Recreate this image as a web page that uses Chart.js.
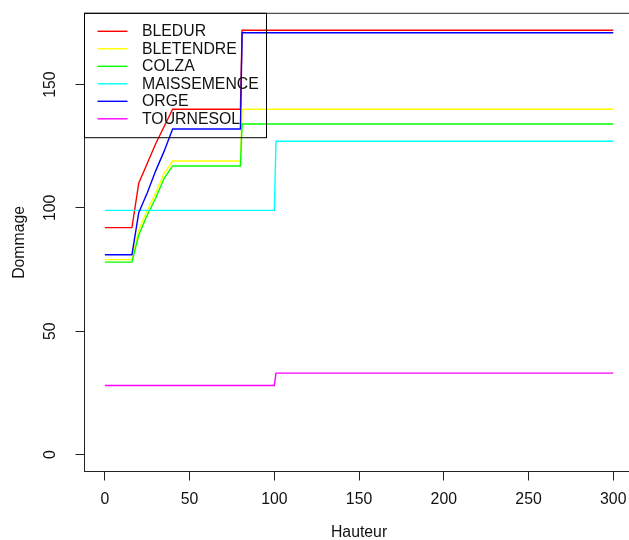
<!DOCTYPE html>
<html>
<head>
<meta charset="utf-8">
<script src="https://cdn.jsdelivr.net/npm/chart.js@4"></script>
<style>
  html, body { margin: 0; padding: 0; background: #fff; overflow: hidden; }
  #wrap { width: 629px; height: 540px; overflow: hidden; }
</style>
</head>
<body>
<div id="wrap"><canvas id="chart" width="650" height="540"></canvas></div>
<script>
// Hauteur values shared by every series
const hauteur = [0, 16, 20, 25, 30, 35, 40, 80, 81, 100, 101, 300];

const bledur      = [92, 92, 110, 118, 126, 133, 140, 140, 172, 172, 172, 172];
const bletendre   = [79, 79, 91, 99, 106, 114, 119, 119, 140, 140, 140, 140];
const colza       = [78, 78, 89, 97, 104, 112, 117, 117, 134, 134, 134, 134];
const maissemence = [99, 99, 99, 99, 99, 99, 99, 99, 99, 99, 127, 127];
const orge        = [81, 81, 98, 106, 115, 123, 132, 132, 171, 171, 171, 171];
const tournesol   = [28, 28, 28, 28, 28, 28, 28, 28, 28, 28, 33, 33];

const seriesNames = ['BLEDUR', 'BLETENDRE', 'COLZA', 'MAISSEMENCE', 'ORGE', 'TOURNESOL'];
const seriesColors = ['#ff0000', '#ffff00', '#00ff00', '#00ffff', '#0000ff', '#ff00ff'];
const seriesValues = [bledur, bletendre, colza, maissemence, orge, tournesol];

const xTicks = [0, 50, 100, 150, 200, 250, 300];
const yTicks = [0, 50, 100, 150];

const FONT = '"Liberation Sans", Arial, sans-serif';
Chart.defaults.font.family = FONT;
Chart.defaults.font.size = 15.8;
Chart.defaults.color = '#111';

const datasets = seriesValues.map((vals, i) => ({
    label: seriesNames[i],
    data: hauteur.map((h, j) => ({ x: h, y: vals[j] })),
    borderColor: seriesColors[i],
    backgroundColor: seriesColors[i],
    borderWidth: 1.4,
    pointRadius: 0,
    tension: 0,
    fill: false,
    order: seriesValues.length - i
}));

// box around the plot, rotated y labels and the legend (R style)
const rStyle = {
    id: 'rStyle',
    afterDraw(chart) {
        const ctx = chart.ctx;
        const area = chart.chartArea;
        const yScale = chart.scales.y;
        ctx.save();

        ctx.strokeStyle = '#222';
        ctx.lineWidth = 1;
        ctx.strokeRect(area.left, area.top, area.right - area.left, area.bottom - area.top);

        ctx.fillStyle = '#111';
        ctx.font = '15.8px ' + FONT;
        ctx.textAlign = 'center';
        ctx.textBaseline = 'middle';
        yTicks.forEach(v => {
            const py = yScale.getPixelForValue(v);
            ctx.save();
            ctx.translate(51, py);
            ctx.rotate(-Math.PI / 2);
            ctx.fillText(String(v), 0, 0);
            ctx.restore();
        });

        // legend
        const lx = area.left, ly = area.top;
        ctx.strokeStyle = '#000';
        ctx.strokeRect(lx, ly, 182, 124.4);
        ctx.textAlign = 'left';
        chart.data.datasets.forEach((ds, i) => {
            const rowY = ly + 18 + i * 17.5;
            ctx.strokeStyle = ds.borderColor;
            ctx.lineWidth = 1.4;
            ctx.beginPath();
            ctx.moveTo(lx + 13, rowY);
            ctx.lineTo(lx + 43, rowY);
            ctx.stroke();
            ctx.fillStyle = '#111';
            ctx.fillText(ds.label, lx + 57.5, rowY + 0.5);
        });
        ctx.restore();
    }
};

new Chart(document.getElementById('chart'), {
    type: 'line',
    data: { datasets },
    plugins: [rStyle],
    options: {
        responsive: false,
        animation: false,
        layout: { padding: { left: 0, top: 13.3, right: 16.4, bottom: 0 } },
        plugins: { legend: { display: false }, tooltip: { enabled: false } },
        scales: {
            x: {
                type: 'linear',
                min: -12,
                max: 312,
                afterBuildTicks: s => { s.ticks = xTicks.map(v => ({ value: v })); },
                afterFit: s => { s.height = 68.5; },
                grid: { drawOnChartArea: false, tickLength: 9, tickColor: '#222' },
                border: { display: false },
                ticks: { padding: 10, maxRotation: 0, autoSkip: false },
                title: { display: true, text: 'Hauteur', padding: { top: 0, bottom: -2.5 } }
            },
            y: {
                type: 'linear',
                min: -6.88,
                max: 178.88,
                afterBuildTicks: s => { s.ticks = yTicks.map(v => ({ value: v })); },
                afterFit: s => { s.width = 84.5; },
                grid: { drawOnChartArea: false, tickLength: 9, tickColor: '#222' },
                border: { display: false },
                ticks: { color: 'rgba(0,0,0,0)' },
                title: { display: true, text: 'Dommage', padding: { top: 10, bottom: 0 } }
            }
        }
    }
});
</script>
</body>
</html>
